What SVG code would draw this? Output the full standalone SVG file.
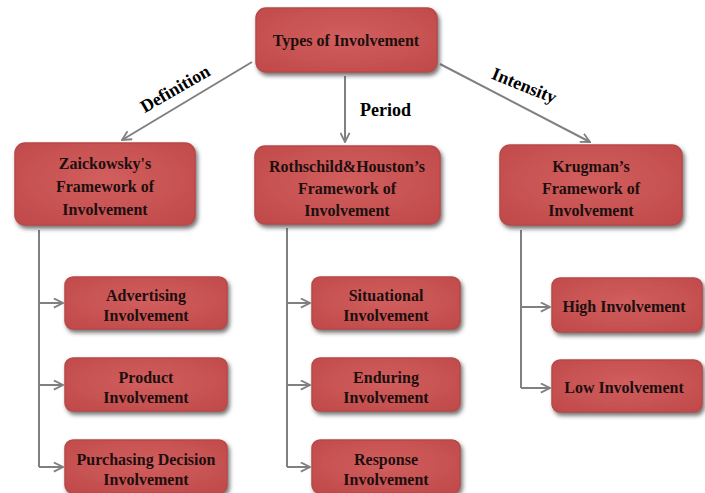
<svg xmlns="http://www.w3.org/2000/svg" width="705" height="493" viewBox="0 0 705 493">
<style>
.box{fill:url(#g);stroke:#b84848;stroke-width:1.5;filter:url(#sh)}
.t{font-family:"Liberation Serif","Times New Roman",serif;font-weight:bold;font-size:16px;fill:#1e0f0f;text-anchor:middle}
.lbl{font-family:"Liberation Serif","Times New Roman",serif;font-weight:bold;font-size:18px;fill:#000}
.c{fill:none;stroke:#808080;stroke-width:2;marker-end:url(#a)}
</style>
<defs>
<radialGradient id="g" cx="50%" cy="45%" r="70%">
<stop offset="0" stop-color="#d25e5e"/>
<stop offset="1" stop-color="#c04a4a"/>
</radialGradient>
<filter id="sh" x="-10%" y="-10%" width="125%" height="135%">
<feDropShadow dx="2" dy="3" stdDeviation="2" flood-color="#444" flood-opacity="0.75"/>
</filter>
<marker id="a" viewBox="0 0 12 12" refX="11" refY="6" markerWidth="11" markerHeight="11" orient="auto" markerUnits="userSpaceOnUse">
<path d="M1,1 L11,6 L1,11" fill="none" stroke="#808080" stroke-width="2"/>
</marker>
</defs>
<rect width="705" height="493" fill="#fff"/>
<g id="connectors">
<line class="c" x1="252" y1="62" x2="122" y2="140"/>
<line class="c" x1="345" y1="76" x2="345" y2="142"/>
<line class="c" x1="440" y1="64" x2="590" y2="142"/>
<path d="M39,230 V467" fill="none" stroke="#808080" stroke-width="2"/>
<line class="c" x1="39" y1="303" x2="63" y2="303"/>
<line class="c" x1="39" y1="385" x2="63" y2="385"/>
<line class="c" x1="39" y1="467" x2="63" y2="467"/>
<path d="M287,228 V467" fill="none" stroke="#808080" stroke-width="2"/>
<line class="c" x1="287" y1="303" x2="310" y2="303"/>
<line class="c" x1="287" y1="385" x2="310" y2="385"/>
<line class="c" x1="287" y1="467" x2="310" y2="467"/>
<path d="M521,230 V388" fill="none" stroke="#808080" stroke-width="2"/>
<line class="c" x1="521" y1="307" x2="550" y2="307"/>
<line class="c" x1="521" y1="388" x2="550" y2="388"/>
<text class="lbl" transform="translate(178,94) rotate(-30)" text-anchor="middle">Definition</text>
<text class="lbl" x="360" y="116">Period</text>
<text class="lbl" transform="translate(522,91) rotate(22)" text-anchor="middle">Intensity</text>
</g>
<g id="n0"><rect class="box" x="256" y="8" width="181" height="64" rx="10"/><text class="t" x="346" y="46">Types of Involvement</text></g>
<g id="n1"><rect class="box" x="15" y="143" width="180" height="82" rx="10"/><text class="t" x="105" y="169">Zaickowsky's</text><text class="t" x="105" y="192">Framework of</text><text class="t" x="105" y="215">Involvement</text></g>
<g id="n2"><rect class="box" x="255" y="146" width="185" height="78" rx="10"/><text class="t" x="347" y="172">Rothschild&amp;Houston’s</text><text class="t" x="347" y="194">Framework of</text><text class="t" x="347" y="216">Involvement</text></g>
<g id="n3"><rect class="box" x="500" y="145" width="182" height="80" rx="10"/><text class="t" x="591" y="172">Krugman’s</text><text class="t" x="591" y="194">Framework of</text><text class="t" x="591" y="216">Involvement</text></g>
<g id="n4"><rect class="box" x="65" y="277" width="162" height="52" rx="8"/><text class="t" x="146" y="301">Advertising</text><text class="t" x="146" y="321">Involvement</text></g>
<g id="n5"><rect class="box" x="65" y="358" width="162" height="53" rx="8"/><text class="t" x="146" y="383">Product</text><text class="t" x="146" y="403">Involvement</text></g>
<g id="n6"><rect class="box" x="65" y="440" width="162" height="53" rx="8"/><text class="t" x="146" y="465">Purchasing Decision</text><text class="t" x="146" y="485">Involvement</text></g>
<g id="n7"><rect class="box" x="312" y="277" width="148" height="52" rx="8"/><text class="t" x="386" y="301">Situational</text><text class="t" x="386" y="321">Involvement</text></g>
<g id="n8"><rect class="box" x="312" y="358" width="148" height="53" rx="8"/><text class="t" x="386" y="383">Enduring</text><text class="t" x="386" y="403">Involvement</text></g>
<g id="n9"><rect class="box" x="312" y="440" width="148" height="53" rx="8"/><text class="t" x="386" y="465">Response</text><text class="t" x="386" y="485">Involvement</text></g>
<g id="n10"><rect class="box" x="552" y="278" width="150" height="54" rx="8"/><text class="t" x="624" y="312">High Involvement</text></g>
<g id="n11"><rect class="box" x="552" y="360" width="150" height="52" rx="8"/><text class="t" x="624" y="393">Low Involvement</text></g>
</svg>
